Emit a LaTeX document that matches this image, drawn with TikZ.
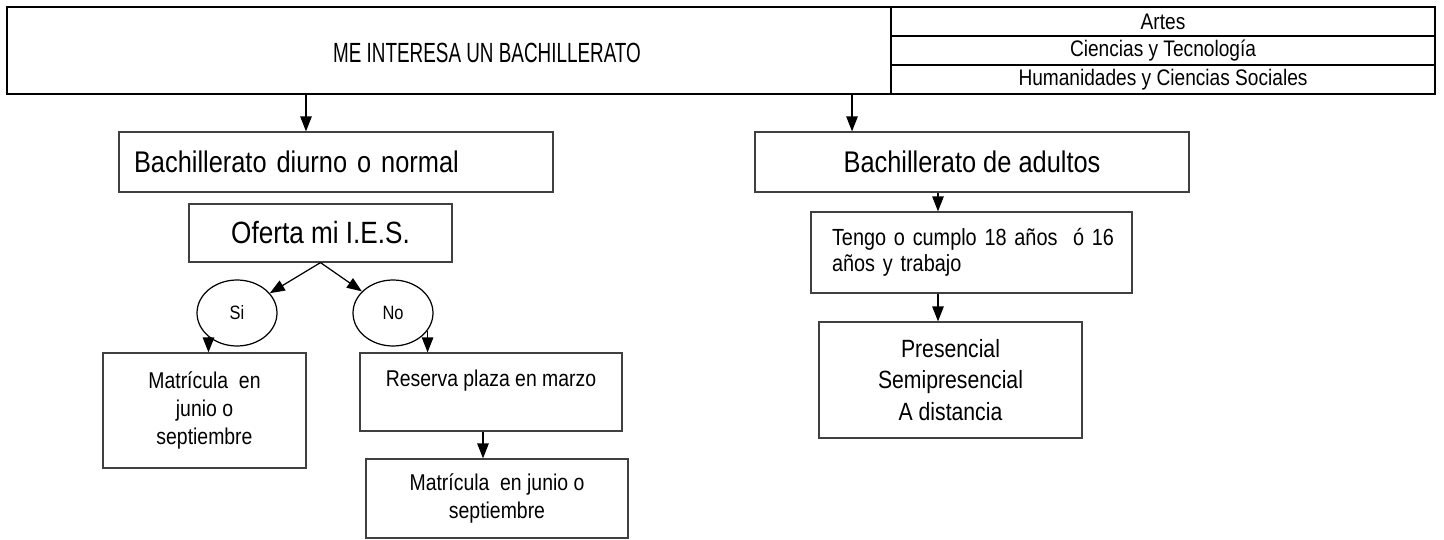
\documentclass[tikz,border=0pt]{standalone}
\usepackage{fontspec}
\setmainfont{Liberation Sans}[FakeStretch=0.85]
\newfontfamily\titlefont{Liberation Sans}[FakeStretch=0.68]
\usetikzlibrary{arrows.meta,shapes.geometric}

\begin{document}
\begin{tikzpicture}[x=0.02cm, y=-0.02cm,
    box/.style={draw=black!75, line width=0.7pt, rectangle, inner sep=0pt, align=center},
    topbox/.style={box, draw=black},
    oval/.style={draw=black, line width=0.7pt, ellipse, inner sep=0pt,
                 minimum width=1.6cm, minimum height=1.32cm, font=\fontsize{11}{13}\selectfont},
    arr/.style={-{Triangle[width=6.5pt,length=8.5pt]}, line width=0.7pt}]

    \useasboundingbox (0,0) rectangle (1444,540);

    % cabecera
    \node[topbox, minimum width=17.68cm, minimum height=1.74cm] (top) at (449,50.5) {};
    \node[font=\titlefont\fontsize{15.8}{18}\selectfont] (titulo) at (487,53) {ME INTERESA UN BACHILLERATO};
    \node[topbox, minimum width=10.88cm, minimum height=0.58cm, font=\fontsize{12.8}{14}\selectfont] (artes) at (1163,21.5) {Artes};
    \node[topbox, minimum width=10.88cm, minimum height=0.58cm, font=\fontsize{12.8}{14}\selectfont] (ciencias) at (1163,50.5) {Ciencias y Tecnología};
    \node[topbox, minimum width=10.88cm, minimum height=0.58cm, font=\fontsize{12.8}{14}\selectfont] (humanidades) at (1163,79.5) {Humanidades y Ciencias Sociales};

    % rama izquierda
    \node[box, minimum width=8.68cm, minimum height=1.2cm, inner xsep=0.3cm, text width=8.08cm, align=left,
          font=\fontsize{17}{20}\selectfont] (diurno) at (336,162) {\mbox{Bachillerato diurno o normal}};
    \node[box, minimum width=5.26cm, minimum height=1.16cm, font=\fontsize{17.5}{20}\selectfont] (oferta) at (320.5,233) {Oferta mi I.E.S.};
    \node[oval] (si) at (237,313) {Si};
    \node[oval] (no) at (393,313) {No};
    \node[box, minimum width=4.06cm, minimum height=2.3cm, font=\fontsize{13}{16}\selectfont] (matri1) at (204.5,410.5) {Matrícula\ \ en\\junio o\\septiembre};
    \node[box, minimum width=5.24cm, minimum height=1.56cm, font=\fontsize{13}{16}\selectfont] (reserva) at (491,392) {Reserva plaza en marzo\\\mbox{}};
    \node[box, minimum width=5.24cm, minimum height=1.58cm, font=\fontsize{13}{16}\selectfont] (matri2) at (497,498.5) {Matrícula\ \ en junio o\\septiembre};

    % rama derecha
    \node[box, minimum width=8.68cm, minimum height=1.2cm, font=\fontsize{17}{20}\selectfont] (adultos) at (972,162) {Bachillerato de adultos};
    \node[box, minimum width=6.42cm, minimum height=1.62cm, inner xsep=0.42cm, text width=5.58cm, align=left,
          font=\fontsize{13.3}{15}\selectfont] (tengo) at (971.5,252.5) {\mbox{Tengo o cumplo 18 años\ \ ó 16}\\\mbox{años y trabajo}};
    \node[box, minimum width=5.26cm, minimum height=2.32cm, font=\fontsize{14.2}{18}\selectfont] (modos) at (950.5,380) {Presencial\\Semipresencial\\A distancia};

    \draw[arr] ([xshift=-0.6cm]diurno.north |- top.south) -- ([xshift=-0.6cm]diurno.north);
    \draw[arr] ([xshift=-2.4cm]adultos.north |- top.south) -- ([xshift=-2.4cm]adultos.north);
    \draw[arr] (oferta.south) -- (si);
    \draw[arr] (oferta.south) -- (no);
    \draw[arr] (si.220) -- (si.220 |- matri1.north);
    \draw[arr] (no.333) -- (no.333 |- reserva.north);
    \draw[arr] ([xshift=-0.16cm]reserva.south) -- ([xshift=-0.16cm]reserva.south |- matri2.north);
    \draw[arr] ([xshift=-0.68cm]adultos.south) -- ([xshift=-0.68cm]adultos.south |- tengo.north);
    \draw[arr] ([xshift=-0.67cm]tengo.south) -- ([xshift=-0.67cm]tengo.south |- modos.north);

\end{tikzpicture}
\end{document}
